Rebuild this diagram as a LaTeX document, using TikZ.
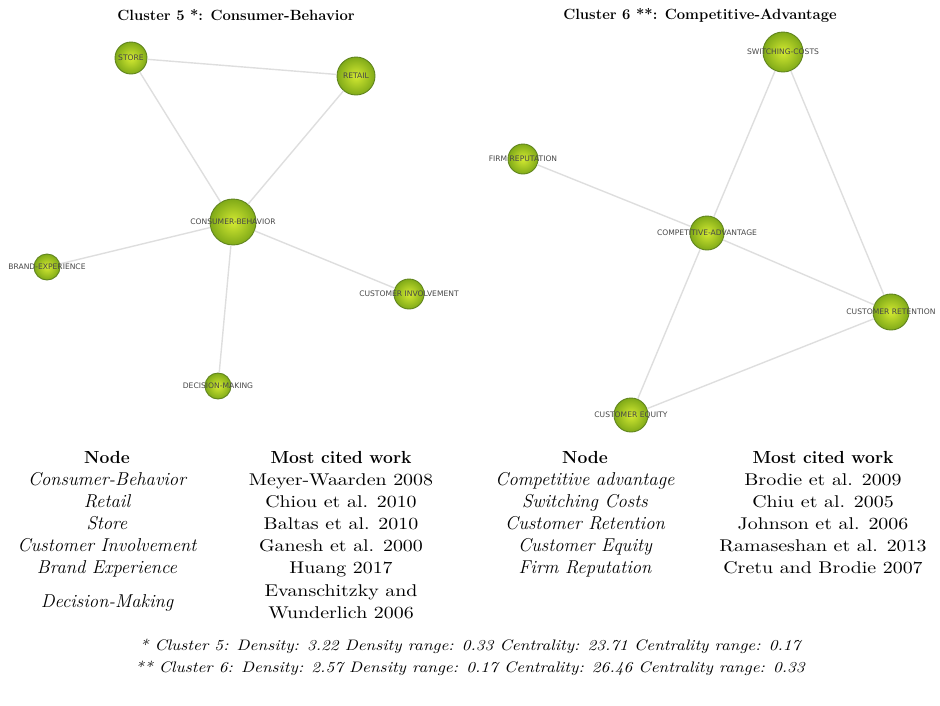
\documentclass[tikz,border=0pt]{standalone}
\usepackage{fontspec}
\newfontfamily\lblfont{DejaVu Sans}
\newfontfamily\wideroman{lmroman10-regular.otf}[FakeStretch=1.17]
\newfontfamily\wideit{lmroman10-italic.otf}[FakeStretch=1.13]
\definecolor{ballin}{RGB}{212,234,50}
\definecolor{ballout}{RGB}{128,170,24}
\definecolor{balldraw}{RGB}{96,132,30}
\definecolor{edgegray}{RGB}{222,222,222}
\begin{document}
\begin{tikzpicture}[x=1pt,y=-1pt,
  ball/.style={circle, draw=balldraw, line width=0.9pt, inner color=ballin, outer color=ballout, minimum size=#1, inner sep=0pt},
  lbl/.style={font=\lblfont\fontsize{7.6}{8}\selectfont, text=black!72},
  edge/.style={draw=edgegray, line width=1.4pt},
  ttl/.style={font=\bfseries\fontsize{14.8}{17}\selectfont},
  txt/.style={anchor=base, inner sep=0pt},
  hd/.style={txt, font=\bfseries\fontsize{17.5}{20}\selectfont},
  it/.style={txt, font=\itshape\fontsize{18.6}{21}\selectfont},
  rm/.style={txt, font=\wideroman\fontsize{17}{20}\selectfont},
  fn/.style={txt, font=\wideit\fontsize{15.2}{18}\selectfont}]
\useasboundingbox (0,0) rectangle (940,705);
% titles
\node[ttl] (t5) at (236,15) {Cluster 5 *: Consumer-Behavior};
\node[ttl] (t6) at (700,15) {Cluster 6 **: Competitive-Advantage};
% cluster 5 nodes
\node[ball=32pt] (store) at (131,58) {};
\node[ball=38pt] (retail) at (356,76) {};
\node[ball=46pt] (cb) at (233,222) {};
\node[ball=26pt] (brand) at (47,267) {};
\node[ball=30pt] (ci) at (409,294) {};
\node[ball=26pt] (dm) at (218,386) {};
% cluster 6 nodes
\node[ball=40pt] (sc) at (783,52) {};
\node[ball=30pt] (fr) at (523,159) {};
\node[ball=34pt] (ca) at (707,233) {};
\node[ball=36pt] (cr) at (891,312) {};
\node[ball=34pt] (ce) at (631,415) {};
% edges
\path[edge] (store) -- (retail);
\path[edge] (store) -- (cb);
\path[edge] (retail) -- (cb);
\path[edge] (cb) -- (brand);
\path[edge] (cb) -- (ci);
\path[edge] (cb) -- (dm);
\path[edge] (sc) -- (ca);
\path[edge] (sc) -- (cr);
\path[edge] (fr) -- (ca);
\path[edge] (ca) -- (cr);
\path[edge] (ca) -- (ce);
\path[edge] (ce) -- (cr);
% labels
\node[lbl] at (store) {STORE};
\node[lbl] at (retail) {RETAIL};
\node[lbl] at (cb) {CONSUMER-BEHAVIOR};
\node[lbl] at (brand) {BRAND-EXPERIENCE};
\node[lbl] at (ci) {CUSTOMER INVOLVEMENT};
\node[lbl] at (dm) {DECISION-MAKING};
\node[lbl] at (sc) {SWITCHING-COSTS};
\node[lbl] at (fr) {FIRM REPUTATION};
\node[lbl] at (ca) {COMPETITIVE-ADVANTAGE};
\node[lbl] at (cr) {CUSTOMER RETENTION};
\node[lbl] at (ce) {CUSTOMER EQUITY};
% table left
\node[hd] (h1) at (107,463) {Node};
\node[hd] (h2) at (341,463) {Most cited work};
\node[it] (a1) at (107,485) {Consumer-Behavior};
\node[it] (a2) at (107,507) {Retail};
\node[it] (a3) at (107,529) {Store};
\node[it] (a4) at (107,551) {Customer Involvement};
\node[it] (a5) at (107,573) {Brand Experience};
\node[it] (a6) at (107,607) {Decision-Making};
\node[rm] (b1) at (341,485) {Meyer-Waarden 2008};
\node[rm] (b2) at (341,507) {Chiou et al. 2010};
\node[rm] (b3) at (341,529) {Baltas et al. 2010};
\node[rm] (b4) at (341,551) {Ganesh et al. 2000};
\node[rm] (b5) at (341,573) {Huang 2017};
\node[rm] (b6) at (341,596) {Evanschitzky and};
\node[rm] (b7) at (341,618) {Wunderlich 2006};
% table right
\node[hd] (h3) at (585,463) {Node};
\node[hd] (h4) at (823,463) {Most cited work};
\node[it] (c1) at (585,485) {Competitive advantage};
\node[it] (c2) at (585,507) {Switching Costs};
\node[it] (c3) at (585,529) {Customer Retention};
\node[it] (c4) at (585,551) {Customer Equity};
\node[it] (c5) at (585,573) {Firm Reputation};
\node[rm] (d1) at (823,485) {Brodie et al. 2009};
\node[rm] (d2) at (823,507) {Chiu et al. 2005};
\node[rm] (d3) at (823,529) {Johnson et al. 2006};
\node[rm] (d4) at (823,551) {Ramaseshan et al. 2013};
\node[rm] (d5) at (823,573) {Cretu and Brodie 2007};
% footnotes
\node[fn] (f1) at (470,650) {* Cluster 5: Density: 3.22 Density range: 0.33 Centrality: 23.71 Centrality range: 0.17};
\node[fn] (f2) at (470,672) {** Cluster 6: Density: 2.57 Density range: 0.17 Centrality: 26.46 Centrality range: 0.33};
\end{tikzpicture}
\end{document}
